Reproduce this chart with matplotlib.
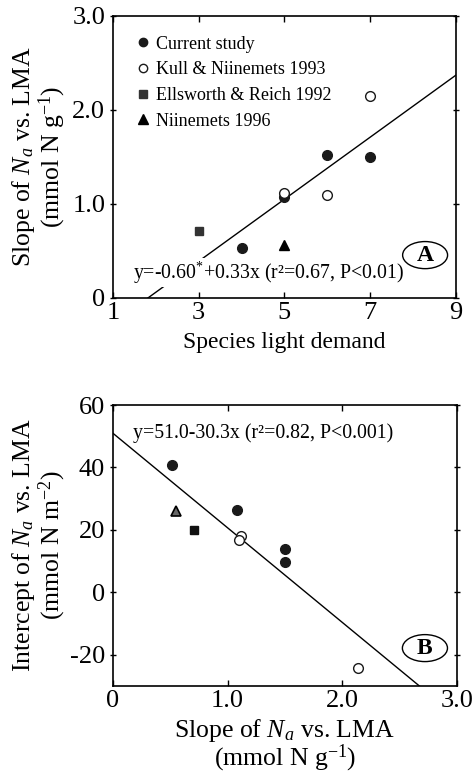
import numpy as np
import matplotlib
matplotlib.use("Agg")
import matplotlib.pyplot as plt
from matplotlib.patches import Ellipse
from matplotlib.lines import Line2D

plt.rcParams['font.family'] = ['Liberation Serif', 'DejaVu Serif']
plt.rcParams['mathtext.fontset'] = 'custom'
plt.rcParams['mathtext.rm'] = 'Liberation Serif'
plt.rcParams['mathtext.it'] = 'Liberation Serif:italic'
plt.rcParams['axes.unicode_minus'] = False

# panel A: slope vs light demand
cur_light = [4, 5, 6, 7]
cur_slope = [0.53, 1.07, 1.52, 1.50]
kull_light = [5, 6, 7]
kull_slope = [1.12, 1.10, 2.15]
ells_light = [3]
ells_slope = [0.71]
niin_light = [5]
niin_slope = [0.56]
fitA = (-0.60, 0.33)

# panel B: intercept vs slope
cur_int = [40.7, 26.3, 13.8, 9.7]
cur_slopeB = [0.52, 1.08, 1.50, 1.50]
kull_slopeB = [1.12, 1.10, 2.14]
kull_int = [18.0, 16.8, -24.3]
ells_slopeB = [0.71]
ells_int = [19.9]
niin_slopeB = [0.55]
niin_int = [26.0]
fitB = (51.0, -30.3)

fig = plt.figure(figsize=(4.74, 7.73), dpi=100)
axA = fig.add_axes([0.238, 0.6145, 0.724, 0.365])
axB = fig.add_axes([0.238, 0.1125, 0.726, 0.3635])

tick_fs = 19
lab_fs = 18.5
ms = 7


def style(ax):
    for s in ax.spines.values():
        s.set_linewidth(1.2)
    ax.tick_params(axis='both', labelsize=tick_fs, width=1.0, length=4,
                   top=True, right=True, direction='in', pad=3)
    ax.tick_params(axis='y', which='both', left=True, direction='inout', length=5)


def tag(ax, letter, x, y):
    ax.add_patch(Ellipse((x, y), 0.131, 0.096, transform=ax.transAxes,
                         fill=False, lw=1.0, color='black', zorder=5))
    ax.text(x, y, letter, transform=ax.transAxes, ha='center', va='center',
            fontsize=17, fontweight='bold', zorder=6)


# ---- A ----
xs = np.array([-fitA[0] / fitA[1], 9])
axA.plot(xs, fitA[0] + fitA[1] * xs, color='black', lw=1.0, zorder=1)
axA.plot(cur_light, cur_slope, 'o', color='#1a1a1a', ms=ms, zorder=3)
axA.plot(kull_light, kull_slope, 'o', mfc='white', mec='#1a1a1a', mew=1.0, ms=ms, zorder=4)
axA.plot(ells_light, ells_slope, 's', color='#333333', ms=6, zorder=3)
axA.plot(niin_light, niin_slope, '^', color='black', ms=7, zorder=3)
axA.set_xlim(1, 9)
axA.set_ylim(0, 3.0)
axA.set_xticks([1, 3, 5, 7, 9])
axA.set_yticks([0, 1.0, 2.0, 3.0])
axA.set_yticklabels(['0', '1.0', '2.0', '3.0'])
style(axA)
axA.set_xlabel('Species light demand', fontsize=17, labelpad=6)
axA.set_ylabel('Slope of $N_a$ vs. LMA\n(mmol N g$^{-1}$)', fontsize=lab_fs, linespacing=1.0)
axA.yaxis.set_label_coords(-0.13, 0.5)
axA.text(0.058, 0.089, 'y=-0.60$^{*}$+0.33x (r²=0.67, P<0.01)', transform=axA.transAxes,
         ha='left', va='center', fontsize=14.3,
         bbox=dict(facecolor='white', edgecolor='none', pad=1), zorder=2)
tag(axA, 'A', 0.91, 0.152)

handles = [
    Line2D([], [], marker='o', ls='', color='#1a1a1a', ms=6),
    Line2D([], [], marker='o', ls='', mfc='white', mec='#1a1a1a', ms=6),
    Line2D([], [], marker='s', ls='', color='#333333', ms=5.5),
    Line2D([], [], marker='^', ls='', color='black', ms=6.5),
]
labels = ['Current study', 'Kull & Niinemets 1993', 'Ellsworth & Reich 1992', 'Niinemets 1996']
axA.legend(handles, labels, loc='upper left', frameon=False, fontsize=13,
           handlelength=0.6, handletextpad=0.4, labelspacing=0.48,
           borderaxespad=0.3, bbox_to_anchor=(0.035, 0.975))

# ---- B ----
xb = np.array([0, (-30 - fitB[0]) / fitB[1]])
axB.plot(xb, fitB[0] + fitB[1] * xb, color='black', lw=1.0, zorder=1)
axB.plot(cur_slopeB, cur_int, 'o', color='#1a1a1a', ms=ms, zorder=3)
axB.plot(kull_slopeB, kull_int, 'o', mfc='white', mec='#1a1a1a', mew=1.0, ms=ms, zorder=4)
axB.plot(ells_slopeB, ells_int, 's', color='#111111', ms=6, zorder=3)
axB.plot(niin_slopeB, niin_int, '^', mfc='#666666', mec='black', mew=1.2, ms=7, zorder=3)
axB.set_xlim(0, 3.0)
axB.set_ylim(-30, 60)
axB.set_xticks([0, 1.0, 2.0, 3.0])
axB.set_xticklabels(['0', '1.0', '2.0', '3.0'])
axB.set_yticks([-20, 0, 20, 40, 60])
style(axB)
axB.set_xlabel('Slope of $N_a$ vs. LMA\n(mmol N g$^{-1}$)', fontsize=lab_fs, linespacing=0.95)
axB.xaxis.set_label_coords(0.5, -0.11)
axB.set_ylabel('Intercept of $N_a$ vs. LMA\n(mmol N m$^{-2}$)', fontsize=lab_fs, linespacing=1.0)
axB.yaxis.set_label_coords(-0.13, 0.5)
axB.text(0.058, 0.90, 'y=51.0-30.3x (r²=0.82, P<0.001)', transform=axB.transAxes,
         ha='left', va='center', fontsize=14.3,
         bbox=dict(facecolor='white', edgecolor='none', pad=1), zorder=2)
tag(axB, 'B', 0.907, 0.135)

fig.savefig('out.png', dpi=100)
